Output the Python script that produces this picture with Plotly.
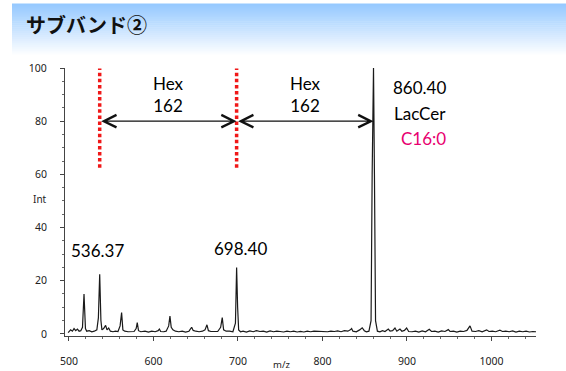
import plotly.graph_objects as go

# ---- data ----
mz = [499, 502, 504, 506, 508, 510, 512, 514, 516, 517.8, 519.5, 521, 524, 527, 530, 533,
      534.8, 536.37, 537.8, 539, 541, 543.4, 545, 547, 549, 552, 555, 558, 560.5, 562.3,
      563.8, 566, 570, 574, 577, 579.5, 580.8, 582.3, 585, 590, 594, 598, 602, 605.5, 607,
      608.5, 612, 615, 618, 619.5, 621, 623, 626, 630, 634, 638, 642, 645.2, 647, 650, 654,
      658, 661, 663.3, 665, 668, 672, 676, 679.5, 681.4, 683, 686, 690, 694, 697, 698.4,
      699.6, 700.8, 703, 706, 710, 714, 718, 722, 726, 730, 734, 738, 742, 746, 750, 754,
      758, 762, 766, 770, 774, 778, 782, 786, 790, 794, 798, 802, 806, 810, 814, 818, 822,
      826, 830, 833, 834.5, 836, 840, 844, 847, 849.5, 852, 855, 857.5, 858.8, 860.4, 861.5,
      862.8, 865, 868, 871, 874, 877.9, 880, 883, 885.8, 888, 891.7, 894, 897, 899.6, 902,
      906, 910, 914, 918, 922, 926.4, 929, 933, 937, 941, 945, 948.9, 951, 955, 959, 963,
      967, 971, 974.6, 977, 981, 985, 989, 994.3, 997, 1001, 1005, 1010, 1013, 1017, 1021,
      1025, 1029, 1033, 1037, 1041, 1045, 1049, 1053]
intensity = [0.5, 1.5, 1.0, 2.0, 1.2, 1.8, 1.0, 1.2, 2.5, 15, 2.0, 1.0, 1.2, 0.8, 1.0, 1.5,
             6, 22.4, 5, 1.5, 2.0, 3.2, 1.5, 2.2, 1.0, 0.8, 1.0, 0.9, 3, 8,
             1.5, 1.0, 0.8, 1.0, 0.9, 2, 4.2, 1.2, 0.8, 1.0, 0.7, 1.0, 0.8, 1.2, 1.8,
             0.9, 0.8, 1.0, 3, 6.7, 2.5, 1.5, 1.0, 0.8, 1.0, 0.7, 1.0, 2.5, 1.3, 1.0, 0.8,
             1.0, 1.5, 3.4, 1.2, 0.9, 1.0, 0.9, 2.5, 6.1, 1.5, 1.0, 1.0, 0.8, 4, 25,
             10, 1.5, 0.8, 1.0, 0.7, 1.1, 0.8, 1.2, 0.9, 1.0, 0.7, 1.1, 0.8, 1.0, 0.9, 0.7,
             1.0, 0.8, 1.0, 0.7, 0.9, 0.7, 1.0, 0.8, 1.0, 0.9, 0.8, 0.9, 0.8, 1.0, 0.9, 1.1, 0.8,
             1.2, 1.0, 1.5, 2.0, 1.0, 0.8, 1.5, 2.3, 1.2, 0.8, 1.0, 5, 60, 100, 60,
             5, 1.0, 0.8, 1.2, 0.9, 1.8, 1.0, 1.2, 2.2, 1.0, 1.8, 1.0, 1.3, 2.2, 0.9,
             0.8, 1.0, 0.7, 1.1, 0.8, 1.7, 0.9, 1.0, 0.7, 1.1, 0.9, 1.6, 0.9, 1.0, 0.7, 1.0,
             0.9, 1.3, 3.0, 1.0, 0.9, 1.2, 0.8, 1.5, 0.9, 1.0, 0.8, 1.4, 0.9, 1.0, 0.8,
             1.1, 0.7, 1.0, 0.8, 1.0, 0.7, 0.9, 0.8]

x_ticks = [500, 600, 700, 800, 900, 1000]
y_ticks = [0, 20, 40, 60, 80, 100]

title_text = "サブバンド②"
hex_mass = 162
peak_low = 536.37
peak_mid = 698.40
peak_main = 860.40
arrow_level = 80

# ---- figure ----
W, H = 566, 371
L, R, T, B = 65, 536, 67.5, 336


def pxx(p):
    return (p - L) / (R - L)


def pxy(p):
    return (B - p) / (B - T)


fig = go.Figure()
fig.add_trace(go.Scatter(x=mz, y=intensity, mode="lines",
                         line=dict(color="#1a1a1a", width=1.2), hoverinfo="skip",
                         showlegend=False))

shapes = []
# banner gradient
y_top, y_bot, steps = 3, 56, 27
c0 = (150, 201, 255)
for i in range(steps):
    f = i / (steps - 1)
    col = tuple(int(round(c0[k] + (255 - c0[k]) * f)) for k in range(3))
    ya = y_top + (y_bot - y_top) * i / steps
    yb = y_top + (y_bot - y_top) * (i + 1) / steps + 0.6
    shapes.append(dict(type="rect", xref="paper", yref="paper",
                       x0=pxx(12), x1=pxx(566), y0=pxy(yb), y1=pxy(ya),
                       fillcolor="rgb(%d,%d,%d)" % col, line=dict(width=0), layer="below"))

# red dotted markers
for xv in [peak_low, peak_mid]:
    shapes.append(dict(type="line", xref="x", yref="y", x0=xv, x1=xv, y0=62.5, y1=99.8,
                       line=dict(color="#F01818", width=3.5, dash="3.5px,2.6px")))

annotations = [
    dict(text="<b>" + title_text + "</b>", xref="paper", yref="paper", x=pxx(24), y=pxy(24),
         xanchor="left", yanchor="middle", showarrow=False,
         font=dict(family="Noto Sans CJK JP", size=20, color="#111111")),
]
# double arrows
for a, b in [(peak_low, peak_mid), (peak_mid, peak_main)]:
    annotations.append(dict(x=b, y=arrow_level, ax=a, ay=arrow_level, xref="x", yref="y",
                            axref="x", ayref="y", text="", showarrow=True,
                            arrowhead=5, startarrowhead=5, arrowside="end+start",
                            arrowsize=1.9, startarrowsize=1.9, arrowwidth=1.3,
                            arrowcolor="#111111", standoff=0, startstandoff=0))
    annotations.append(dict(x=(a + b) / 2, y=89.9, xref="x", yref="y",
                            text="Hex<br>%d" % hex_mass, showarrow=False,
                            font=dict(family="Lato", size=17, color="#000000"), align="center"))

lab_font = dict(family="Lato", size=17, color="#000000")
annotations += [
    dict(x=915.4, y=92.7, xref="x", yref="y", text="%.2f" % peak_main, showarrow=False, font=lab_font),
    dict(x=915.4, y=82.9, xref="x", yref="y", text="LacCer", showarrow=False, font=lab_font),
    dict(x=919, y=73.4, xref="x", yref="y", text="C16:0", showarrow=False,
         font=dict(family="Lato", size=17, color="#E8006F")),
    dict(x=534.3, y=31.5, xref="x", yref="y", text="%.2f" % peak_low, showarrow=False, font=lab_font),
    dict(x=702.4, y=32.2, xref="x", yref="y", text="%.2f" % peak_mid, showarrow=False, font=lab_font),
    dict(x=pxx(40), y=50.6, xref="paper", yref="y", text="Int", showarrow=False,
         xanchor="center", yanchor="middle",
         font=dict(family="Noto Sans", size=10, color="#222222")),
    dict(x=pxx(281), y=pxy(364.5), xref="paper", yref="paper", text="m/z", showarrow=False,
         xanchor="center", yanchor="middle",
         font=dict(family="Noto Sans", size=9.5, color="#222222")),
]

fig.update_layout(
    width=W, height=H,
    margin=dict(l=L, r=W - R, t=T, b=H - B),
    paper_bgcolor="white", plot_bgcolor="white",
    shapes=shapes, annotations=annotations,
    xaxis=dict(range=[495.3, 1052.7], tickvals=x_ticks, ticktext=[str(v) for v in x_ticks],
               automargin=False,
               showgrid=False, zeroline=False, showline=True, linecolor="#444444", linewidth=1,
               ticks="outside", ticklen=4, tickcolor="#444444", ticklabelstandoff=11,
               minor=dict(dtick=20, ticks="outside", ticklen=2, tickcolor="#666666"),
               tickfont=dict(family="Noto Sans", size=10.5, color="#222222")),
    yaxis=dict(range=[-0.8, 100], tickvals=y_ticks, ticktext=[str(v) for v in y_ticks],
               automargin=False,
               showgrid=False, zeroline=False, showline=True, linecolor="#444444", linewidth=1,
               ticks="outside", ticklen=4, tickcolor="#444444", ticklabelstandoff=11,
               minor=dict(dtick=5, ticks="outside", ticklen=2, tickcolor="#666666"),
               tickfont=dict(family="Noto Sans", size=10.5, color="#222222")),
)

fig.write_html("out.html", config={"displayModeBar": False},
               post_script="document.body.style.margin='0';")
